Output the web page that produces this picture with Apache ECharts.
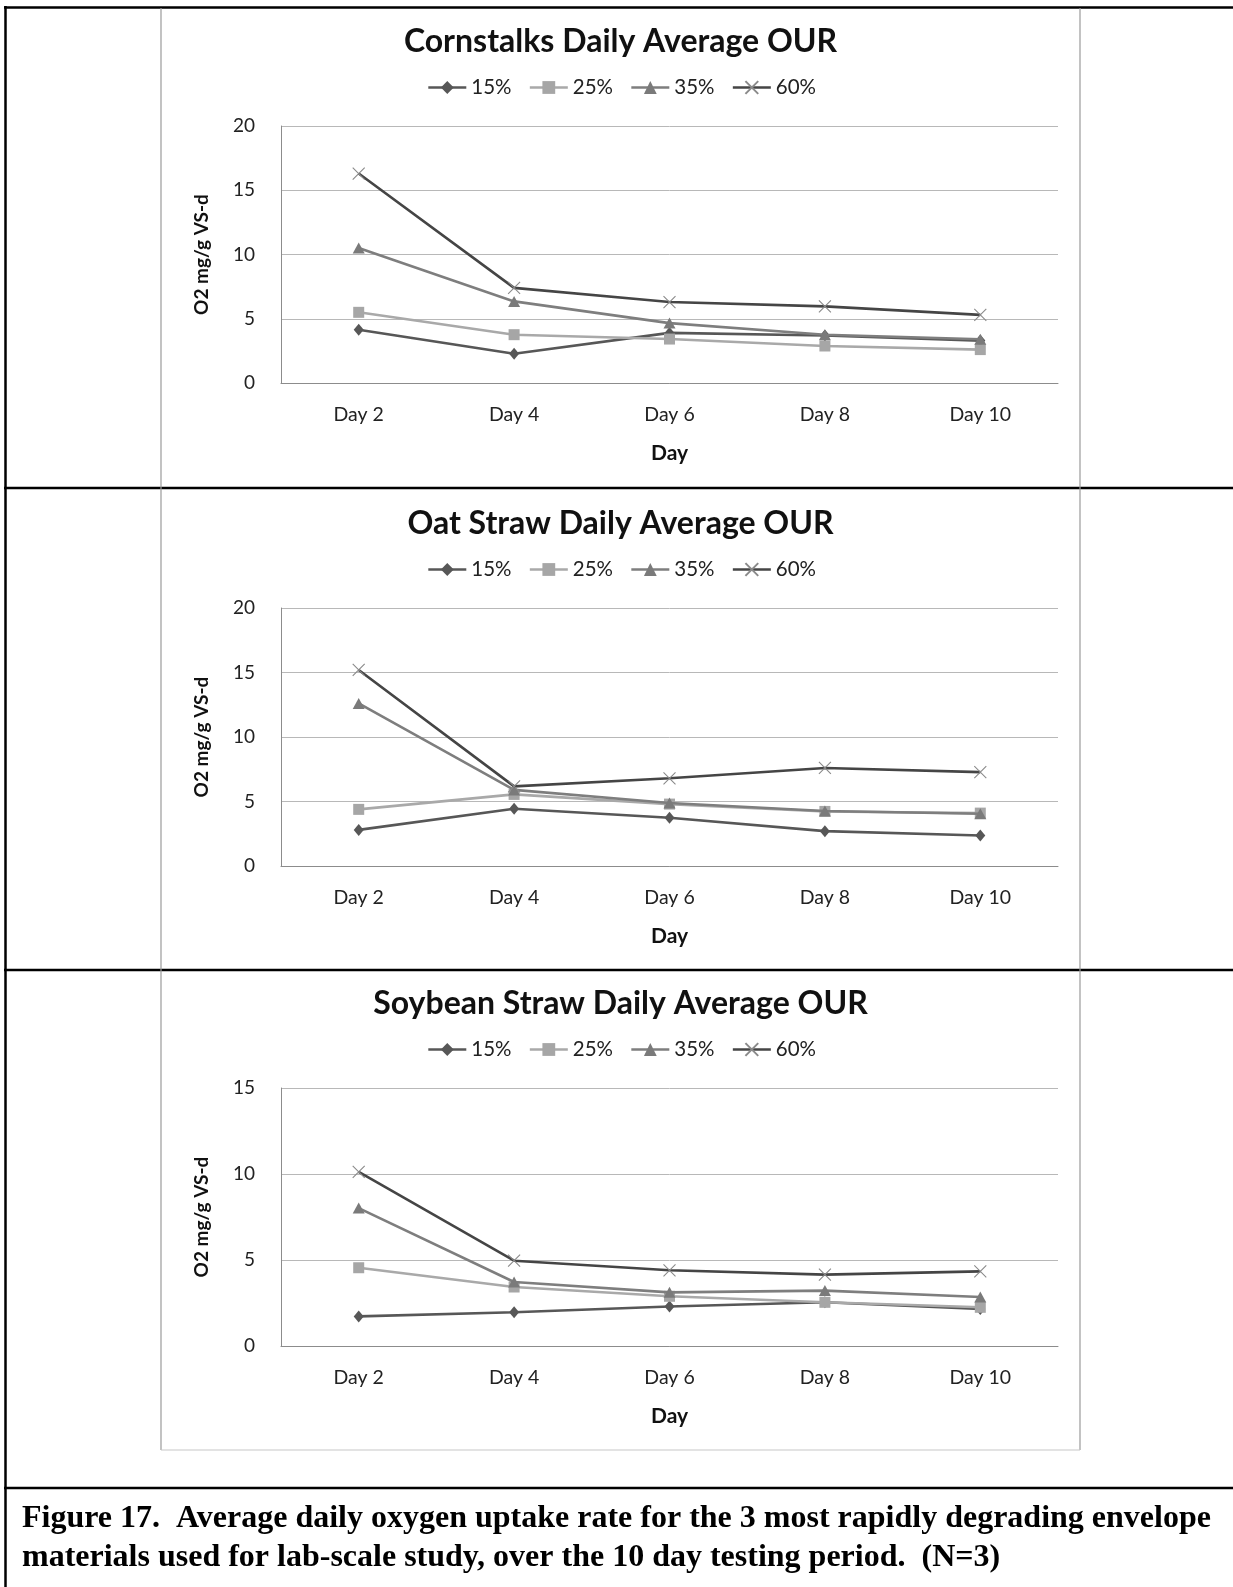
<!DOCTYPE html>
<html>
<head>
<meta charset="utf-8">
<script src="https://cdn.jsdelivr.net/npm/echarts@6/dist/echarts.min.js"></script>
<style>
  html, body { margin: 0; padding: 0; background: #fff; }
  #main { width: 1233px; height: 1587px; }
</style>
</head>
<body>
<div id="main"></div>
<script>
// ---- Data ----
const categories = ['Day 2', 'Day 4', 'Day 6', 'Day 8', 'Day 10'];
const seriesNames = ['15%', '25%', '35%', '60%'];
const chartTitles = ['Cornstalks Daily Average OUR', 'Oat Straw Daily Average OUR', 'Soybean Straw Daily Average OUR'];
const yMaxes = [20, 20, 15];
const yTickStep = 5;
const yAxisName = 'O2 mg/g VS-d';
const xAxisName = 'Day';

const corn15 = [4.15, 2.28, 3.9, 3.7, 3.3];
const corn25 = [5.5, 3.76, 3.42, 2.88, 2.6];
const corn35 = [10.5, 6.35, 4.66, 3.76, 3.4];
const corn60 = [16.3, 7.4, 6.3, 5.96, 5.3];

const oat15 = [2.8, 4.44, 3.74, 2.7, 2.37];
const oat25 = [4.39, 5.55, 4.8, 4.23, 4.1];
const oat35 = [12.6, 5.9, 4.88, 4.26, 4.05];
const oat60 = [15.2, 6.17, 6.8, 7.6, 7.28];

const soy15 = [1.72, 1.96, 2.3, 2.54, 2.15];
const soy25 = [4.55, 3.43, 2.89, 2.54, 2.25];
const soy35 = [8.02, 3.72, 3.12, 3.22, 2.85];
const soy60 = [10.12, 4.96, 4.4, 4.15, 4.34];

const captionLine1 = 'Figure 17.  Average daily oxygen uptake rate for the 3 most rapidly degrading envelope';
const captionLine2 = 'materials used for lab-scale study, over the 10 day testing period.  (N=3)';

const chartData = [
  [corn15, corn25, corn35, corn60],
  [oat15, oat25, oat35, oat60],
  [soy15, soy25, soy35, soy60]
];

// ---- Styles ----
const FONT = 'Lato';
const lineColors = ['#575757', '#a9a9a9', '#7e7e7e', '#454545'];
const markerDefs = [
  { symbol: 'diamond', symbolSize: [10, 12], itemStyle: { color: '#575757' } },
  { symbol: 'rect', symbolSize: 11, itemStyle: { color: '#a6a6a6' } },
  { symbol: 'triangle', symbolSize: [12, 11], itemStyle: { color: '#7a7a7a' } },
  { symbol: 'path://M0,0L10,10M10,0L0,10', symbolSize: 12,
    itemStyle: { color: 'rgba(0,0,0,0)', borderColor: '#8a8a8a', borderWidth: 1.1 } }
];

const offsets = [0, 482, 962];
const plotLeft = 281, plotWidth = 777;
const plotTops = [126, 608, 1088];
const plotHeights = [257, 258, 258];

const grids = [], xAxes = [], yAxes = [], series = [], titles = [], legends = [];

for (let c = 0; c < 3; c++) {
  grids.push({ left: plotLeft, top: plotTops[c], width: plotWidth, height: plotHeights[c], containLabel: false });
  xAxes.push({
    type: 'category', gridIndex: c, data: categories, boundaryGap: true,
    axisLine: { show: true, lineStyle: { color: '#8c8c8c', width: 1 } },
    axisTick: { show: false },
    axisLabel: { margin: 22, fontFamily: FONT, fontSize: 19.5, color: '#222' },
    name: xAxisName, nameLocation: 'middle', nameGap: 60,
    nameTextStyle: { fontFamily: FONT, fontWeight: 'bold', fontSize: 21, color: '#111' }
  });
  yAxes.push({
    type: 'value', gridIndex: c, min: 0, max: yMaxes[c], interval: yTickStep,
    axisLine: { show: true, lineStyle: { color: '#8c8c8c', width: 1 } },
    axisTick: { show: false },
    splitLine: { show: true, lineStyle: { color: '#b8b8b8', width: 1 } },
    axisLabel: { margin: 26, fontFamily: FONT, fontSize: 19, color: '#222' },
    name: yAxisName, nameLocation: 'middle', nameRotate: 90, nameGap: 70,
    nameTextStyle: { fontFamily: FONT, fontWeight: 'bold', fontSize: 19, color: '#111' }
  });
  titles.push({
    text: chartTitles[c], left: 620.5, top: 41.5 + offsets[c], padding: 0,
    textAlign: 'center', textVerticalAlign: 'middle',
    textStyle: { fontFamily: FONT, fontWeight: 'bold', fontSize: 32, color: '#111' }
  });
  legends.push({
    data: seriesNames, left: 427, top: 87 + offsets[c] - 10, padding: 0,
    itemWidth: 38, itemHeight: 16, itemGap: 17,
    lineStyle: { width: 2.6 },
    textStyle: { fontFamily: FONT, fontSize: 20.5, color: '#222' }
  });
  for (let s = 0; s < 4; s++) {
    series.push(Object.assign({
      type: 'line', name: seriesNames[s], xAxisIndex: c, yAxisIndex: c,
      data: chartData[c][s],
      lineStyle: { color: lineColors[s], width: 2.6 },
      showAllSymbol: true, animation: false, z: 2 + s
    }, JSON.parse(JSON.stringify(markerDefs[s]))));
  }
}

const black = '#000';
const boxGray = '#9a9a9a';
const graphics = [
  // outer border
  { type: 'line', shape: { x1: 5.5, y1: 6, x2: 5.5, y2: 1587 }, style: { stroke: black, lineWidth: 2.5 } },
  { type: 'line', shape: { x1: 4, y1: 7.5, x2: 1233, y2: 7.5 }, style: { stroke: black, lineWidth: 2.5 } },
  // separators
  { type: 'line', shape: { x1: 4, y1: 488, x2: 1233, y2: 488 }, style: { stroke: black, lineWidth: 2.5 } },
  { type: 'line', shape: { x1: 4, y1: 970, x2: 1233, y2: 970 }, style: { stroke: black, lineWidth: 2.5 } },
  { type: 'line', shape: { x1: 4, y1: 1488, x2: 1233, y2: 1488 }, style: { stroke: black, lineWidth: 2.5 } },
  // chart box
  { type: 'line', shape: { x1: 161, y1: 8, x2: 161, y2: 1450 }, style: { stroke: boxGray, lineWidth: 1.2 } },
  { type: 'line', shape: { x1: 1080, y1: 8, x2: 1080, y2: 1450 }, style: { stroke: boxGray, lineWidth: 1.2 } },
  { type: 'line', shape: { x1: 161, y1: 1450, x2: 1080, y2: 1450 }, style: { stroke: '#c8c8c8', lineWidth: 1.2 } },
  // caption
  { type: 'text', x: 22, y: 1519, style: { text: captionLine1, fontFamily: 'Liberation Serif', fontWeight: 'bold', fontSize: 32, fill: '#000', verticalAlign: 'middle', align: 'left' } },
  { type: 'text', x: 22, y: 1558, style: { text: captionLine2, fontFamily: 'Liberation Serif', fontWeight: 'bold', fontSize: 32, fill: '#000', verticalAlign: 'middle', align: 'left' } }
];

const chart = echarts.init(document.getElementById('main'), null, { renderer: 'canvas' });
chart.setOption({
  backgroundColor: '#fff',
  animation: false,
  title: titles,
  legend: legends,
  grid: grids,
  xAxis: xAxes,
  yAxis: yAxes,
  series: series,
  graphic: graphics
});
</script>
</body>
</html>
